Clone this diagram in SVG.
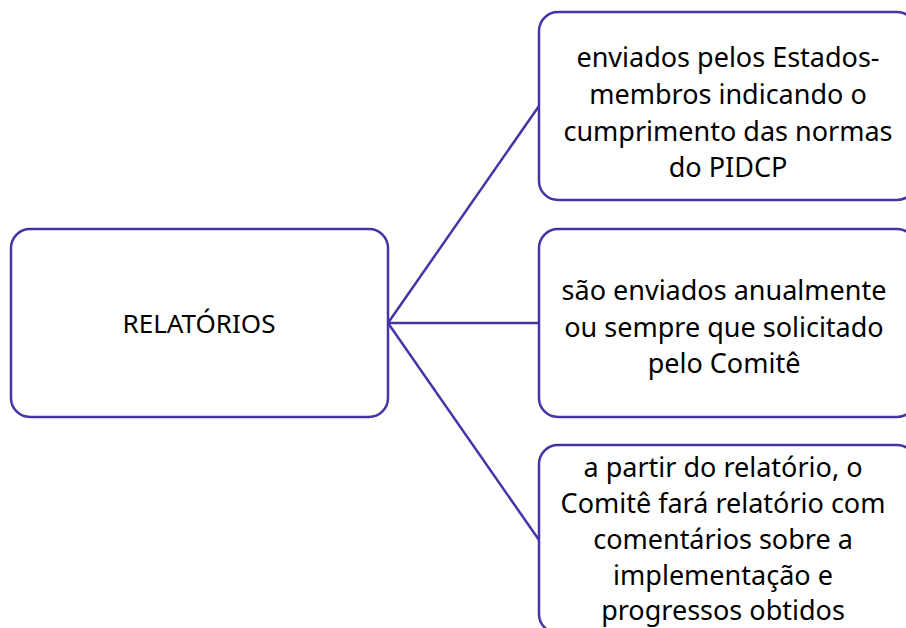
<svg xmlns="http://www.w3.org/2000/svg" width="906" height="628" viewBox="0 0 906 628">
<style>
.box{fill:#ffffff;stroke:#4434A6;stroke-width:2.5}
.ln{stroke:#4434A6;stroke-width:2.5;fill:none}
text{font-family:"Noto Sans","Open Sans",sans-serif;font-size:27px;fill:#000;text-anchor:middle}
</style>
<rect width="906" height="628" fill="#ffffff"/>
<g id="connectors">
<line class="ln" x1="388" y1="323" x2="539" y2="106"/>
<line class="ln" x1="388" y1="323" x2="539" y2="323"/>
<line class="ln" x1="388" y1="323" x2="539" y2="540"/>
</g>
<g id="root">
<rect class="box" x="11" y="229" width="377" height="188" rx="19"/>
<text x="199" y="333" style="font-size:26px">RELATÓRIOS</text>
</g>
<g id="n1">
<rect class="box" x="539" y="12" width="377" height="188" rx="19"/>
<text x="728" y="67">enviados pelos Estados-</text>
<text x="728" y="104">membros indicando o</text>
<text x="728" y="141">cumprimento das normas</text>
<text x="728" y="177">do PIDCP</text>
</g>
<g id="n2">
<rect class="box" x="539" y="229" width="377" height="188" rx="19"/>
<text x="724" y="300">são enviados anualmente</text>
<text x="724" y="337">ou sempre que solicitado</text>
<text x="724" y="373">pelo Comitê</text>
</g>
<g id="n3">
<rect class="box" x="539" y="445" width="377" height="188" rx="19"/>
<text x="723" y="477">a partir do relatório, o</text>
<text x="723" y="513">Comitê fará relatório com</text>
<text x="723" y="549">comentários sobre a</text>
<text x="723" y="585">implementação e</text>
<text x="723" y="620">progressos obtidos</text>
</g>
</svg>
